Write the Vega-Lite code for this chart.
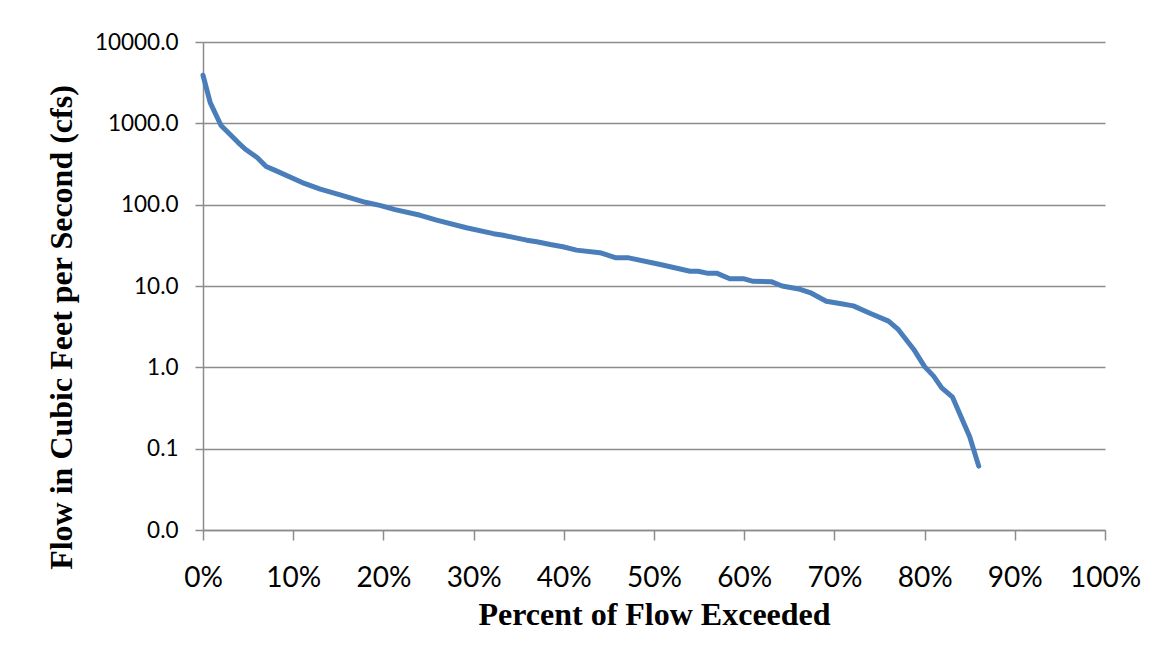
{
  "$schema": "https://vega.github.io/schema/vega-lite/v6.json",
  "autosize": {"type": "none"},
  "padding": {"left": 203, "top": 42, "right": 59, "bottom": 134},
  "width": 902,
  "height": 488,
  "background": "white",
  "config": {"view": {"stroke": null}},
  "data": {
    "values": [
      {"pct": 0.000, "flow": 3900},
      {"pct": 0.008, "flow": 1800},
      {"pct": 0.020, "flow": 940},
      {"pct": 0.039, "flow": 580},
      {"pct": 0.047, "flow": 480},
      {"pct": 0.060, "flow": 380},
      {"pct": 0.070, "flow": 295},
      {"pct": 0.080, "flow": 264},
      {"pct": 0.110, "flow": 187},
      {"pct": 0.130, "flow": 155},
      {"pct": 0.154, "flow": 130},
      {"pct": 0.180, "flow": 107},
      {"pct": 0.196, "flow": 98},
      {"pct": 0.213, "flow": 87},
      {"pct": 0.241, "flow": 74},
      {"pct": 0.259, "flow": 64.5},
      {"pct": 0.292, "flow": 52},
      {"pct": 0.322, "flow": 44},
      {"pct": 0.333, "flow": 42},
      {"pct": 0.359, "flow": 36.6},
      {"pct": 0.370, "flow": 35},
      {"pct": 0.385, "flow": 32.4},
      {"pct": 0.399, "flow": 30.4},
      {"pct": 0.414, "flow": 27.6},
      {"pct": 0.440, "flow": 25.7},
      {"pct": 0.458, "flow": 22.2},
      {"pct": 0.472, "flow": 22.2},
      {"pct": 0.507, "flow": 18.4},
      {"pct": 0.540, "flow": 15.2},
      {"pct": 0.549, "flow": 15.2},
      {"pct": 0.560, "flow": 14.3},
      {"pct": 0.570, "flow": 14.3},
      {"pct": 0.584, "flow": 12.3},
      {"pct": 0.599, "flow": 12.3},
      {"pct": 0.610, "flow": 11.4},
      {"pct": 0.630, "flow": 11.3},
      {"pct": 0.642, "flow": 10.0},
      {"pct": 0.662, "flow": 9.1},
      {"pct": 0.673, "flow": 8.3},
      {"pct": 0.691, "flow": 6.5},
      {"pct": 0.706, "flow": 6.1},
      {"pct": 0.721, "flow": 5.7},
      {"pct": 0.740, "flow": 4.6},
      {"pct": 0.760, "flow": 3.7},
      {"pct": 0.771, "flow": 2.9},
      {"pct": 0.788, "flow": 1.66},
      {"pct": 0.800, "flow": 1.02},
      {"pct": 0.810, "flow": 0.78},
      {"pct": 0.819, "flow": 0.56},
      {"pct": 0.831, "flow": 0.43},
      {"pct": 0.850, "flow": 0.14},
      {"pct": 0.860, "flow": 0.061}
    ]
  },
  "mark": {"type": "line", "color": "#4A7EBB", "strokeWidth": 5, "strokeJoin": "round", "strokeCap": "round"},
  "encoding": {
    "x": {
      "field": "pct",
      "type": "quantitative",
      "scale": {"domain": [0, 1], "nice": false},
      "axis": {
        "title": "Percent of Flow Exceeded",
        "values": [0, 0.1, 0.2, 0.3, 0.4, 0.5, 0.6, 0.7, 0.8, 0.9, 1],
        "format": ".0%",
        "grid": false,
        "domainColor": "#8c8c8c",
        "domainWidth": 1.5,
        "tickColor": "#8c8c8c",
        "tickWidth": 1.5,
        "tickSize": 10,
        "labelFont": "Lato",
        "labelFontSize": 28,
        "labelColor": "black",
        "labelPadding": 24,
        "labelFlush": false,
        "labelOverlap": false,
        "titleFont": "Liberation Serif",
        "titleFontSize": 32,
        "titleFontWeight": "bold",
        "titleColor": "black",
        "titlePadding": 7
      }
    },
    "y": {
      "field": "flow",
      "type": "quantitative",
      "scale": {"type": "log", "domain": [0.01, 10000], "nice": false},
      "axis": {
        "title": "Flow in Cubic Feet per Second (cfs)",
        "values": [0.01, 0.1, 1, 10, 100, 1000, 10000],
        "format": ".1f",
        "grid": true,
        "gridColor": "#8c8c8c",
        "gridWidth": 1.5,
        "domainColor": "#8c8c8c",
        "domainWidth": 1.5,
        "tickColor": "#8c8c8c",
        "tickWidth": 1.5,
        "tickSize": 8,
        "labelFont": "Lato",
        "labelFontSize": 22.5,
        "labelColor": "black",
        "labelPadding": 17,
        "labelOverlap": false,
        "labelFlush": false,
        "titleFont": "Liberation Serif",
        "titleFontSize": 32,
        "titleFontWeight": "bold",
        "titleColor": "black",
        "titlePadding": 16,
        "titleY": 285
      }
    }
  }
}
